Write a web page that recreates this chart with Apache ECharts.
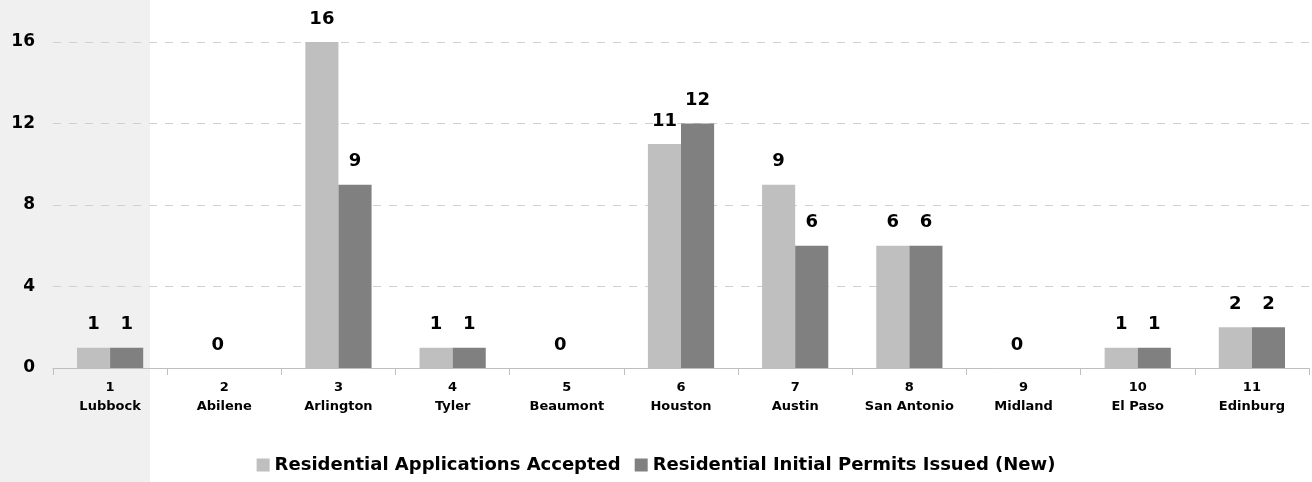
<!DOCTYPE html>
<html>
<head>
<meta charset="utf-8">
<script src="https://cdn.jsdelivr.net/npm/echarts@6/dist/echarts.min.js"></script>
<style>
  html, body { margin: 0; padding: 0; background: #ffffff; }
  #chart { width: 1312px; height: 482px; }
</style>
</head>
<body>
<div id="chart"></div>
<script>
// Chart data
const regionNumbers = ['1', '2', '3', '4', '5', '6', '7', '8', '9', '10', '11'];
const regionNames = ['Lubbock', 'Abilene', 'Arlington', 'Tyler', 'Beaumont', 'Houston', 'Austin', 'San Antonio', 'Midland', 'El Paso', 'Edinburg'];
const applicationsAccepted = [1, 0, 16, 1, 0, 11, 9, 6, 0, 1, 2];
const permitsIssued = [1, 0, 9, 1, 0, 12, 6, 6, 0, 1, 2];
const yTicks = [0, 4, 8, 12, 16];

(function() {
    const chartDom = document.getElementById('chart');
    const myChart = echarts.init(chartDom, null, { renderer: 'canvas' });
    const fontFamily = '"DejaVu Sans", sans-serif';

    const categories = regionNumbers.map((n, i) => n + '\n' + regionNames[i]);

    // zero values: show one "0" label in the middle of the category
    const firstData = applicationsAccepted.map((v, i) => {
        if (v === 0 && permitsIssued[i] === 0) {
            return { value: v, label: { show: true, offset: [10, 0] } };
        }
        return v;
    });
    const secondData = permitsIssued.map((v, i) => {
        if (v === 0 && applicationsAccepted[i] === 0) {
            return { value: v, label: { show: false } };
        }
        return v;
    });

    const labelStyle = {
        show: true,
        position: 'top',
        distance: 14,
        color: '#000',
        fontFamily: fontFamily,
        fontWeight: 'bold',
        fontSize: 18
    };

    const option = {
        backgroundColor: '#ffffff',
        animation: false,
        graphic: [
            {
                type: 'rect',
                left: 0,
                top: 0,
                z: -10,
                shape: { width: 150, height: 482 },
                style: { fill: '#f0f0f0' }
            }
        ],
        grid: {
            left: 53,
            right: 3,
            top: 42,
            bottom: 114
        },
        legend: {
            bottom: 3,
            left: 'center',
            itemWidth: 13,
            itemHeight: 13,
            itemGap: 14,
            icon: 'rect',
            textStyle: {
                color: '#000',
                fontFamily: fontFamily,
                fontWeight: 'bold',
                fontSize: 18
            },
            data: ['Residential Applications Accepted', 'Residential Initial Permits Issued (New)']
        },
        xAxis: {
            type: 'category',
            data: categories,
            axisLine: { lineStyle: { color: '#bfbfbf', width: 1 } },
            axisTick: { show: true, length: 7, lineStyle: { color: '#bfbfbf' } },
            axisLabel: {
                color: '#000',
                fontFamily: fontFamily,
                fontWeight: 'bold',
                fontSize: 13,
                lineHeight: 19,
                margin: 10,
                interval: 0
            },
            splitLine: { show: false }
        },
        yAxis: {
            type: 'value',
            min: 0,
            max: 16,
            interval: 4,
            axisLine: { show: false },
            axisTick: { show: false },
            axisLabel: {
                color: '#000',
                fontFamily: fontFamily,
                fontWeight: 'bold',
                fontSize: 17,
                margin: 18,
                formatter: v => (yTicks.indexOf(v) >= 0 ? String(v) : '')
            },
            splitLine: { lineStyle: { color: '#d0d0d0', type: [8, 8], width: 1 } }
        },
        series: [
            {
                name: 'Residential Applications Accepted',
                type: 'bar',
                data: firstData,
                barGap: '0%',
                barCategoryGap: '42%',
                itemStyle: { color: '#bfbfbf' },
                label: Object.assign({}, labelStyle)
            },
            {
                name: 'Residential Initial Permits Issued (New)',
                type: 'bar',
                data: secondData,
                itemStyle: { color: '#808080' },
                label: Object.assign({}, labelStyle)
            }
        ]
    };

    myChart.setOption(option);
    window.addEventListener('resize', () => myChart.resize());
})();
</script>
</body>
</html>
